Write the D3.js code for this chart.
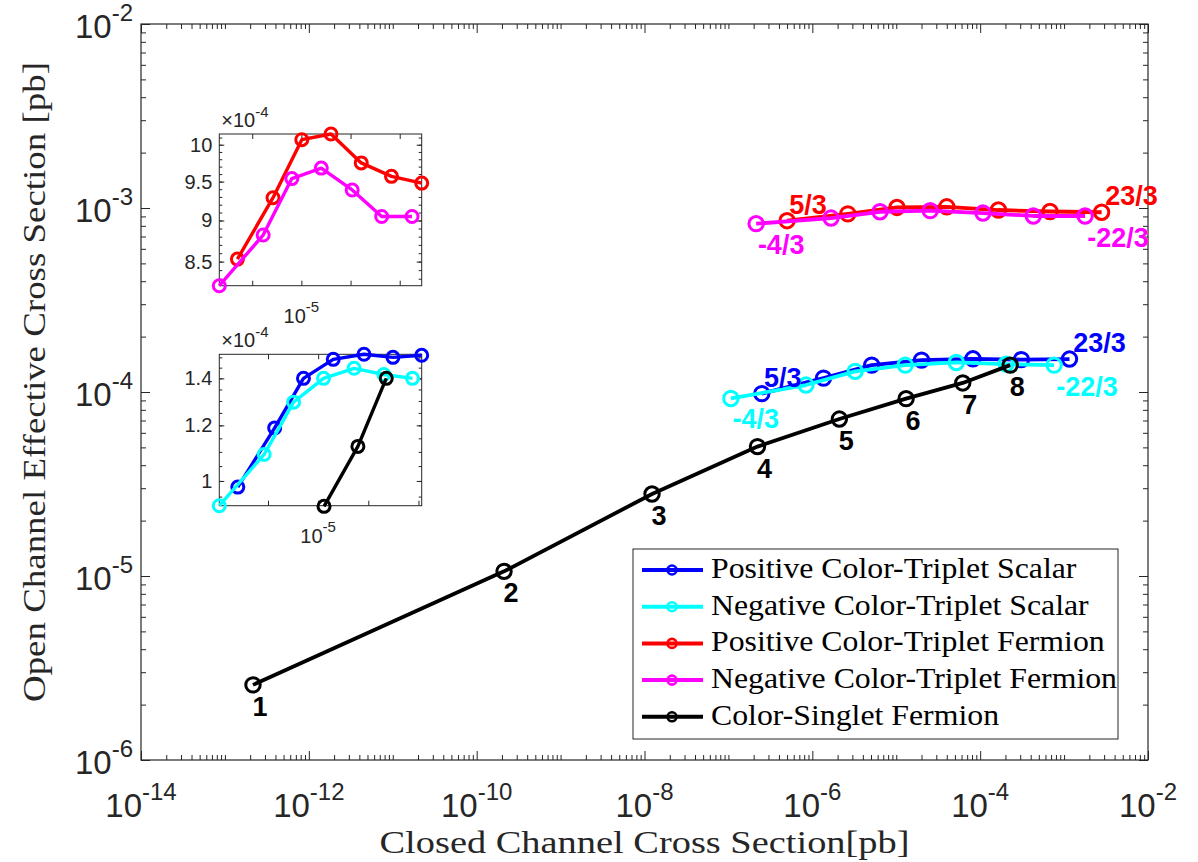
<!DOCTYPE html>
<html>
<head>
<meta charset="utf-8">
<script src="https://cdn.jsdelivr.net/npm/d3@7"></script>
<style>
  body { margin: 0; background: #fff; }
  svg { display: block; }
</style>
</head>
<body>
<div id="chart"></div>
<script>
// values (pb)
const blueX  = [2.5e-7, 1.36e-6, 5.1e-6, 2.0e-5, 8.2e-5, 3.1e-4, 1.16e-3];
const blueY  = [0.98e-4, 1.19e-4, 1.40e-4, 1.49e-4, 1.515e-4, 1.50e-4, 1.51e-4];
const cyanX  = [1.07e-7, 8.4e-7, 3.24e-6, 1.28e-5, 5.2e-5, 2.04e-4, 7.6e-4];
const cyanY  = [0.922e-4, 1.091e-4, 1.295e-4, 1.40e-4, 1.447e-4, 1.418e-4, 1.40e-4];
const redX   = [5.0e-7, 2.65e-6, 1.02e-5, 4.0e-5, 1.65e-4, 6.8e-4, 2.8e-3];
const redY   = [8.53e-4, 9.29e-4, 10.07e-4, 10.15e-4, 9.75e-4, 9.57e-4, 9.48e-4];
const magX   = [2.14e-7, 1.67e-6, 6.4e-6, 2.54e-5, 1.08e-4, 4.3e-4, 1.78e-3];
const magY   = [8.22e-4, 8.82e-4, 9.54e-4, 9.68e-4, 9.39e-4, 9.05e-4, 9.05e-4];
const blackX = [2.16e-13, 2.12e-10, 1.23e-8, 2.22e-7, 2.1e-6, 1.31e-5, 6.2e-5, 2.28e-4];
const blackY = [2.56e-6, 1.06e-5, 2.79e-5, 5.05e-5, 7.13e-5, 9.2e-5, 1.12e-4, 1.40e-4];

const blackLabels = ['1', '2', '3', '4', '5', '6', '7', '8'];
const posCharges = ['5/3', '23/3'];   // first and last point
const negCharges = ['-4/3', '-22/3'];

const seriesNames = [
    'Positive Color-Triplet Scalar',
    'Negative Color-Triplet Scalar',
    'Positive Color-Triplet Fermion',
    'Negative Color-Triplet Fermion',
    'Color-Singlet Fermion'
];
const seriesColors = ['#0000ff', '#00ffff', '#ff0000', '#ff00ff', '#000000'];

const xDecades = [-14, -2];
const yDecades = [-6, -2];

const series = [
    { xs: blueX, ys: blueY },
    { xs: cyanX, ys: cyanY },
    { xs: redX, ys: redY },
    { xs: magX, ys: magY },
    { xs: blackX, ys: blackY }
].map((s, i) => ({
    name: seriesNames[i],
    color: seriesColors[i],
    points: s.xs.map((v, j) => [v, s.ys[j]])
}));

const width = 1198, height = 862;
const plot = { left: 141, right: 1148, top: 24, bottom: 760 };
const axisColor = '#262626';
const sansFont = "'Liberation Sans', Arial, Helvetica, sans-serif";
const serifFont = "'Liberation Serif', 'DejaVu Serif', serif";

const svg = d3.select('#chart')
    .append('svg')
    .attr('width', width)
    .attr('height', height);

// scales
const x = d3.scaleLog()
    .domain([Math.pow(10, xDecades[0]), Math.pow(10, xDecades[1])])
    .range([plot.left, plot.right]);
const y = d3.scaleLog()
    .domain([Math.pow(10, yDecades[0]), Math.pow(10, yDecades[1])])
    .range([plot.bottom, plot.top]);

// tick values: 1..9 x 10^k
function logTicks(lo, hi) {
    const out = [];
    for (let k = lo; k < hi; k++)
        for (let m = 1; m < 10; m++) out.push(+(m + 'e' + k));
    out.push(+('1e' + hi));
    return out;
}
const xAll = logTicks(xDecades[0], xDecades[1]);
const xMajor = d3.range(xDecades[0], xDecades[1] + 1, 2).map(k => +('1e' + k));
const xMinor = xAll.filter(v => !xMajor.includes(v));
const yAll = logTicks(yDecades[0], yDecades[1]);
const yMajor = d3.range(yDecades[0], yDecades[1] + 1).map(k => +('1e' + k));
const yMinor = yAll.filter(v => !yMajor.includes(v));

// draw tick marks (inward) on a side with d3 axes
function tickMarks(g, axisFn, scale, values, size) {
    g.append('g')
        .attr('color', axisColor)
        .call(axisFn(scale).tickValues(values).tickSize(-size).tickSizeOuter(0).tickFormat(''))
        .call(a => a.select('.domain').remove());
}

const axes = svg.append('g');
const bottomG = axes.append('g').attr('transform', `translate(0,${plot.bottom})`);
const topG = axes.append('g').attr('transform', `translate(0,${plot.top})`);
const leftG = axes.append('g').attr('transform', `translate(${plot.left},0)`);
const rightG = axes.append('g').attr('transform', `translate(${plot.right},0)`);
tickMarks(bottomG, d3.axisBottom, x, xMinor, 5);
tickMarks(bottomG, d3.axisBottom, x, xMajor, 9);
tickMarks(topG, d3.axisTop, x, xMinor, 5);
tickMarks(topG, d3.axisTop, x, xMajor, 9);
tickMarks(leftG, d3.axisLeft, y, yMinor, 5);
tickMarks(leftG, d3.axisLeft, y, yMajor, 9);
tickMarks(rightG, d3.axisRight, y, yMinor, 5);
tickMarks(rightG, d3.axisRight, y, yMajor, 9);

axes.append('rect')
    .attr('x', plot.left)
    .attr('y', plot.top)
    .attr('width', plot.right - plot.left)
    .attr('height', plot.bottom - plot.top)
    .attr('fill', 'none')
    .attr('stroke', axisColor)
    .attr('stroke-width', 1.2);

// 10^k labels
function powText(sel, base, expSize, expShift) {
    sel.each(function (d) {
        const t = d3.select(this);
        t.append('tspan').text(base);
        t.append('tspan')
            .attr('dy', -expShift)
            .attr('font-size', expSize)
            .text(Math.round(Math.log10(d)));
    });
}

svg.append('g')
    .selectAll('text')
    .data(xMajor)
    .join('text')
    .attr('x', d => x(d))
    .attr('y', plot.bottom + 57)
    .attr('text-anchor', 'middle')
    .attr('font-family', sansFont)
    .attr('font-size', 33)
    .attr('fill', axisColor)
    .call(powText, '10', 24, 17);

svg.append('g')
    .selectAll('text')
    .data(yMajor)
    .join('text')
    .attr('x', plot.left - 8)
    .attr('y', d => y(d) + 14)
    .attr('text-anchor', 'end')
    .attr('font-family', sansFont)
    .attr('font-size', 33)
    .attr('fill', axisColor)
    .call(powText, '10', 24, 17);

// axis titles (LaTeX style serif)
svg.append('text')
    .attr('x', (plot.left + plot.right) / 2)
    .attr('y', 853)
    .attr('text-anchor', 'middle')
    .attr('font-family', serifFont)
    .attr('font-size', 31)
    .attr('fill', axisColor)
    .attr('textLength', 530)
    .attr('lengthAdjust', 'spacingAndGlyphs')
    .text('Closed Channel Cross Section[pb]');

svg.append('text')
    .attr('transform', `translate(45,${(plot.top + plot.bottom) / 2 - 10}) rotate(-90)`)
    .attr('text-anchor', 'middle')
    .attr('font-family', serifFont)
    .attr('font-size', 31)
    .attr('fill', axisColor)
    .attr('textLength', 640)
    .attr('lengthAdjust', 'spacingAndGlyphs')
    .text('Open Channel Effective Cross Section [pb]');

// series in main plot
function drawSeries(g, sx, sy, s, r, lw, mw) {
    const line = d3.line().x(d => sx(d[0])).y(d => sy(d[1]));
    g.append('path')
        .datum(s.points)
        .attr('d', line)
        .attr('fill', 'none')
        .attr('stroke', s.color)
        .attr('stroke-width', lw)
        .attr('stroke-linejoin', 'round');
    g.append('g')
        .selectAll('circle')
        .data(s.points)
        .join('circle')
        .attr('cx', d => sx(d[0]))
        .attr('cy', d => sy(d[1]))
        .attr('r', r)
        .attr('fill', 'none')
        .attr('stroke', s.color)
        .attr('stroke-width', mw);
}

const main = svg.append('g');
series.forEach(s => drawSeries(main, x, y, s, 7.2, 3.8, 3));

// point labels
const labelG = svg.append('g')
    .attr('font-family', sansFont)
    .attr('font-weight', 'bold')
    .attr('font-size', 27);

function pointLabel(pt, text, color, dx, dy) {
    labelG.append('text')
        .attr('x', x(pt[0]) + dx)
        .attr('y', y(pt[1]) + dy)
        .attr('text-anchor', 'middle')
        .attr('fill', color)
        .text(text);
}

const black = series[4];
black.points.forEach((p, i) => pointLabel(p, blackLabels[i], '#000', 7, 31));

[[series[0], series[1]], [series[2], series[3]]].forEach(([pos, neg]) => {
    const pn = pos.points.length - 1, nn = neg.points.length - 1;
    pointLabel(pos.points[0], posCharges[0], pos.color, 21, -7);
    pointLabel(pos.points[pn], posCharges[1], pos.color, 30, -7);
    pointLabel(neg.points[0], negCharges[0], neg.color, 25, 30);
    pointLabel(neg.points[nn], negCharges[1], neg.color, 33, 31);
});

// insets
function drawInset(box, list, yTicks, yMinor) {
    const tight = list.filter(s => s.tight).flatMap(s => s.points);
    const ix = d3.scaleLog()
        .domain(d3.extent(tight, d => d[0]))
        .range([box.left, box.right]);
    const iy = d3.scaleLog()
        .domain(d3.extent(tight, d => d[1]))
        .range([box.bottom, box.top]);

    const g = svg.append('g');
    g.append('rect')
        .attr('x', box.left)
        .attr('y', box.top)
        .attr('width', box.right - box.left)
        .attr('height', box.bottom - box.top)
        .attr('fill', '#fff');

    const [x0, x1] = ix.domain(), [y0, y1] = iy.domain();
    const xDec = d3.range(Math.ceil(Math.log10(x0)), Math.floor(Math.log10(x1)) + 1).map(k => +('1e' + k));

    const b = g.append('g').attr('transform', `translate(0,${box.bottom})`);
    const t = g.append('g').attr('transform', `translate(0,${box.top})`);
    const l = g.append('g').attr('transform', `translate(${box.left},0)`);
    const r = g.append('g').attr('transform', `translate(${box.right},0)`);
    tickMarks(b, d3.axisBottom, ix, xDec, 5);
    tickMarks(t, d3.axisTop, ix, xDec, 5);
    tickMarks(l, d3.axisLeft, iy, yMinor, 3);
    tickMarks(r, d3.axisRight, iy, yMinor, 3);
    tickMarks(r, d3.axisRight, iy, yTicks, 5);

    l.append('g')
        .attr('color', axisColor)
        .call(d3.axisLeft(iy).tickValues(yTicks).tickSize(-5).tickSizeOuter(0).tickPadding(7)
            .tickFormat(d => d3.format('~g')(+(d * 1e4).toFixed(3))))
        .call(a => a.select('.domain').remove())
        .call(a => a.selectAll('text')
            .attr('font-family', sansFont)
            .attr('font-size', 20)
            .attr('fill', axisColor));

    g.append('rect')
        .attr('x', box.left)
        .attr('y', box.top)
        .attr('width', box.right - box.left)
        .attr('height', box.bottom - box.top)
        .attr('fill', 'none')
        .attr('stroke', axisColor)
        .attr('stroke-width', 1);

    // x label, only 10^-5 is written
    g.append('g')
        .selectAll('text')
        .data([1e-5])
        .join('text')
        .attr('x', d => ix(d))
        .attr('y', box.bottom + 37)
        .attr('text-anchor', 'middle')
        .attr('font-family', sansFont)
        .attr('font-size', 20)
        .attr('fill', axisColor)
        .call(powText, '10', 15, 11);

    // exponent multiplier
    const m = g.append('text')
        .attr('x', box.left + 2)
        .attr('y', box.top - 7)
        .attr('font-family', sansFont)
        .attr('font-size', 20)
        .attr('fill', axisColor);
    m.append('tspan').text('\u00d710');
    m.append('tspan').attr('dy', -10).attr('font-size', 15).text('-4');

    const tol = 0.02;
    list.forEach(s => {
        const pts = s.points.filter(p =>
            p[0] >= x0 * (1 - tol) && p[0] <= x1 * (1 + tol) &&
            p[1] >= y0 * (1 - tol) && p[1] <= y1 * (1 + tol));
        drawSeries(g, ix, iy, { color: s.color, points: pts }, 6, 3.4, 3);
    });
}

const insetTop = { left: 219.3, right: 421.7, top: 134, bottom: 285.7 };
const insetBottom = { left: 219.3, right: 421.7, top: 354.3, bottom: 505.7 };

drawInset(insetTop,
    [Object.assign({ tight: true }, series[2]), Object.assign({ tight: true }, series[3])],
    [8.5e-4, 9e-4, 9.5e-4, 10e-4],
    d3.range(83, 102).map(v => v * 1e-5));

drawInset(insetBottom,
    [Object.assign({ tight: true }, series[0]), Object.assign({ tight: true }, series[1]),
     Object.assign({ tight: false }, series[4])],
    [1e-4, 1.2e-4, 1.4e-4],
    d3.range(19, 31).map(v => v * 0.5e-5));

// legend
const legend = svg.append('g');
const lg = { left: 633, top: 549, right: 1118, bottom: 739, row0: 570, step: 36.7 };
legend.append('rect')
    .attr('x', lg.left)
    .attr('y', lg.top)
    .attr('width', lg.right - lg.left)
    .attr('height', lg.bottom - lg.top)
    .attr('fill', '#fff')
    .attr('stroke', axisColor)
    .attr('stroke-width', 1);

const rows = legend.selectAll('g.row')
    .data(series)
    .join('g')
    .attr('class', 'row')
    .attr('transform', (d, i) => `translate(0,${lg.row0 + i * lg.step})`);
rows.append('line')
    .attr('x1', 642)
    .attr('x2', 703)
    .attr('stroke', d => d.color)
    .attr('stroke-width', 4);
rows.append('circle')
    .attr('cx', 672)
    .attr('r', 4.5)
    .attr('fill', 'none')
    .attr('stroke', d => d.color)
    .attr('stroke-width', 2.6);
const legendText = rows.append('text')
    .attr('x', 711)
    .attr('y', 8)
    .attr('font-family', serifFont)
    .attr('font-size', 29)
    .attr('fill', '#000')
    .text(d => d.name);

// stretch legend text to the width of the LaTeX font
const longest = d3.max(legendText.nodes(), n => n.getComputedTextLength());
const k = 406 / longest;
legendText.attr('textLength', function () { return this.getComputedTextLength() * k; })
    .attr('lengthAdjust', 'spacingAndGlyphs');
</script>
</body>
</html>
